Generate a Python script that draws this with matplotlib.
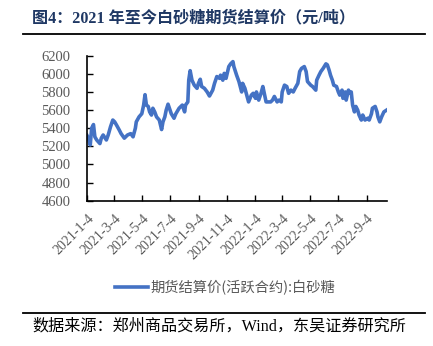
import matplotlib
matplotlib.use("Agg")
import matplotlib.pyplot as plt
import pandas as pd

plt.rcParams["font.family"] = ["Liberation Serif", "Noto Sans CJK SC", "DejaVu Sans"]

TITLE = "图4：2021 年至今白砂糖期货结算价（元/吨）"
SOURCE = "数据来源：郑州商品交易所，Wind，东吴证券研究所"
SERIES_NAME = "期货结算价(活跃合约):白砂糖"

dates = [
    "2021-01-04", "2021-01-07", "2021-01-11", "2021-01-14", "2021-01-18", "2021-01-21",
    "2021-01-25", "2021-02-01", "2021-02-04", "2021-02-08", "2021-02-15", "2021-02-19",
    "2021-02-24", "2021-03-01", "2021-03-05", "2021-03-09", "2021-03-15", "2021-03-19",
    "2021-03-26", "2021-04-02", "2021-04-09", "2021-04-14", "2021-04-19", "2021-04-21",
    "2021-04-27", "2021-05-03", "2021-05-07", "2021-05-10", "2021-05-13", "2021-05-17",
    "2021-05-20", "2021-05-24", "2021-05-27", "2021-05-31", "2021-06-04", "2021-06-10",
    "2021-06-15", "2021-06-18", "2021-06-22", "2021-06-25", "2021-06-29", "2021-07-02",
    "2021-07-06", "2021-07-12", "2021-07-16", "2021-07-23", "2021-07-30", "2021-08-04",
    "2021-08-06", "2021-08-11", "2021-08-13", "2021-08-16", "2021-08-20", "2021-08-25",
    "2021-08-31", "2021-09-03", "2021-09-07", "2021-09-10", "2021-09-16", "2021-09-22",
    "2021-09-27", "2021-10-04", "2021-10-08", "2021-10-13", "2021-10-19", "2021-10-21",
    "2021-10-26", "2021-10-29", "2021-11-02", "2021-11-08", "2021-11-12", "2021-11-17",
    "2021-11-19", "2021-11-25", "2021-11-30", "2021-12-06", "2021-12-08", "2021-12-13",
    "2021-12-17", "2021-12-21", "2021-12-27", "2021-12-31", "2022-01-05", "2022-01-07",
    "2022-01-12", "2022-01-17", "2022-01-21", "2022-01-25", "2022-01-28", "2022-02-07",
    "2022-02-11", "2022-02-15", "2022-02-21", "2022-02-25", "2022-03-02", "2022-03-04",
    "2022-03-09", "2022-03-14", "2022-03-18", "2022-03-23", "2022-03-28", "2022-04-01",
    "2022-04-07", "2022-04-11", "2022-04-15", "2022-04-21", "2022-04-25", "2022-04-28",
    "2022-05-05", "2022-05-09", "2022-05-16", "2022-05-18", "2022-05-23", "2022-05-27",
    "2022-06-01", "2022-06-07", "2022-06-10", "2022-06-14", "2022-06-17", "2022-06-21",
    "2022-06-24", "2022-06-30", "2022-07-04", "2022-07-07", "2022-07-12", "2022-07-14",
    "2022-07-19", "2022-07-21", "2022-07-26", "2022-07-29", "2022-08-01", "2022-08-04",
    "2022-08-08", "2022-08-11", "2022-08-15", "2022-08-18", "2022-08-23", "2022-08-26",
    "2022-08-31", "2022-09-06", "2022-09-09", "2022-09-14", "2022-09-16", "2022-09-22",
    "2022-09-26", "2022-09-28", "2022-10-02", "2022-10-06", "2022-10-11", "2022-10-17",
]
prices = [
    5320, 5290, 5215, 5400, 5440, 5305,
    5270, 5230, 5290, 5325, 5270, 5325,
    5415, 5490, 5470, 5435, 5380, 5340,
    5290, 5325, 5340, 5305, 5400, 5470,
    5525, 5560, 5655, 5770, 5655, 5640,
    5580, 5545, 5620, 5580, 5525, 5490,
    5385, 5470, 5525, 5600, 5665, 5620,
    5560, 5510, 5560, 5620, 5655, 5580,
    5655, 5690, 5930, 6035, 5930, 5875,
    5840, 5895, 5940, 5860, 5840, 5800,
    5755, 5820, 5895, 5970, 5950, 5985,
    5930, 6005, 5950, 6080, 6110, 6135,
    6080, 5985, 5915, 5800, 5895, 5840,
    5765, 5690, 5765, 5785, 5730, 5800,
    5710, 5785, 5860, 5765, 5690, 5690,
    5710, 5750, 5690, 5710, 5690, 5800,
    5875, 5860, 5785, 5820, 5800, 5840,
    5895, 6025, 6060, 6080, 6025, 5915,
    5875, 5860, 5820, 5930, 5985, 6025,
    6060, 6110, 6100, 6040, 5985, 5930,
    5875, 5860, 5800, 5765, 5820, 5730,
    5800, 5710, 5820, 5785, 5800, 5655,
    5580, 5640, 5600, 5545, 5490, 5545,
    5490, 5510, 5490, 5560, 5620, 5640,
    5580, 5525, 5470, 5525, 5580, 5600,
]
tick_dates = [
    "2021-01-04", "2021-03-04", "2021-05-04", "2021-07-04", "2021-09-04", "2021-11-04",
    "2022-01-04", "2022-03-04", "2022-05-04", "2022-07-04", "2022-09-04",
]
tick_labels = [
    "2021-1-4", "2021-3-4", "2021-5-4", "2021-7-4", "2021-9-4", "2021-11-4",
    "2022-1-4", "2022-3-4", "2022-5-4", "2022-7-4", "2022-9-4",
]
y_ticks = [4600, 4800, 5000, 5200, 5400, 5600, 5800, 6000, 6200]

x = pd.to_datetime(dates)

fig = plt.figure(figsize=(4.33, 3.46), dpi=100)
ax = fig.add_axes([0.201, 0.42, 0.692, 0.419])

line, = ax.plot(x, prices, color="#4472C4", linewidth=2.6, solid_joinstyle="round")

ax.set_xlim(x[0], x[-1])
ax.set_ylim(4600, 6200)
ax.set_yticks(y_ticks)
ax.set_xticks(pd.to_datetime(tick_dates))
ax.set_xticklabels(tick_labels, rotation=45, ha="right", va="top", rotation_mode="anchor")

for side in ["top", "right"]:
    ax.spines[side].set_visible(False)
for side in ["left", "bottom"]:
    ax.spines[side].set_color("black")
    ax.spines[side].set_linewidth(1.2)

ax.tick_params(axis="both", direction="in", length=4, width=1, colors="black",
               labelcolor="#595959", labelsize=10.5)
ax.tick_params(axis="x", pad=8, labelsize=10)
ax.tick_params(axis="y", pad=12)

fig.legend([line], [SERIES_NAME], loc="center", bbox_to_anchor=(0.52, 0.17),
           frameon=False, handlelength=2.3, handletextpad=0.2,
           prop={"family": ["Noto Sans CJK SC"], "size": 10.3}, labelcolor="#595959")

fig.text(0.074, 0.947, TITLE, fontsize=11.6, fontweight="bold", color="#1F3864",
         va="center", ha="left")
fig.text(0.074, 0.056, SOURCE, fontsize=11.6, color="black", va="center", ha="left")

fig.add_artist(plt.Line2D([0.052, 0.982], [1 - 34 / 346] * 2, color="black", linewidth=1.3))
fig.add_artist(plt.Line2D([0.052, 0.982], [1 - 312.7 / 346] * 2, color="black", linewidth=1.3))

fig.savefig("out.png", dpi=100)
